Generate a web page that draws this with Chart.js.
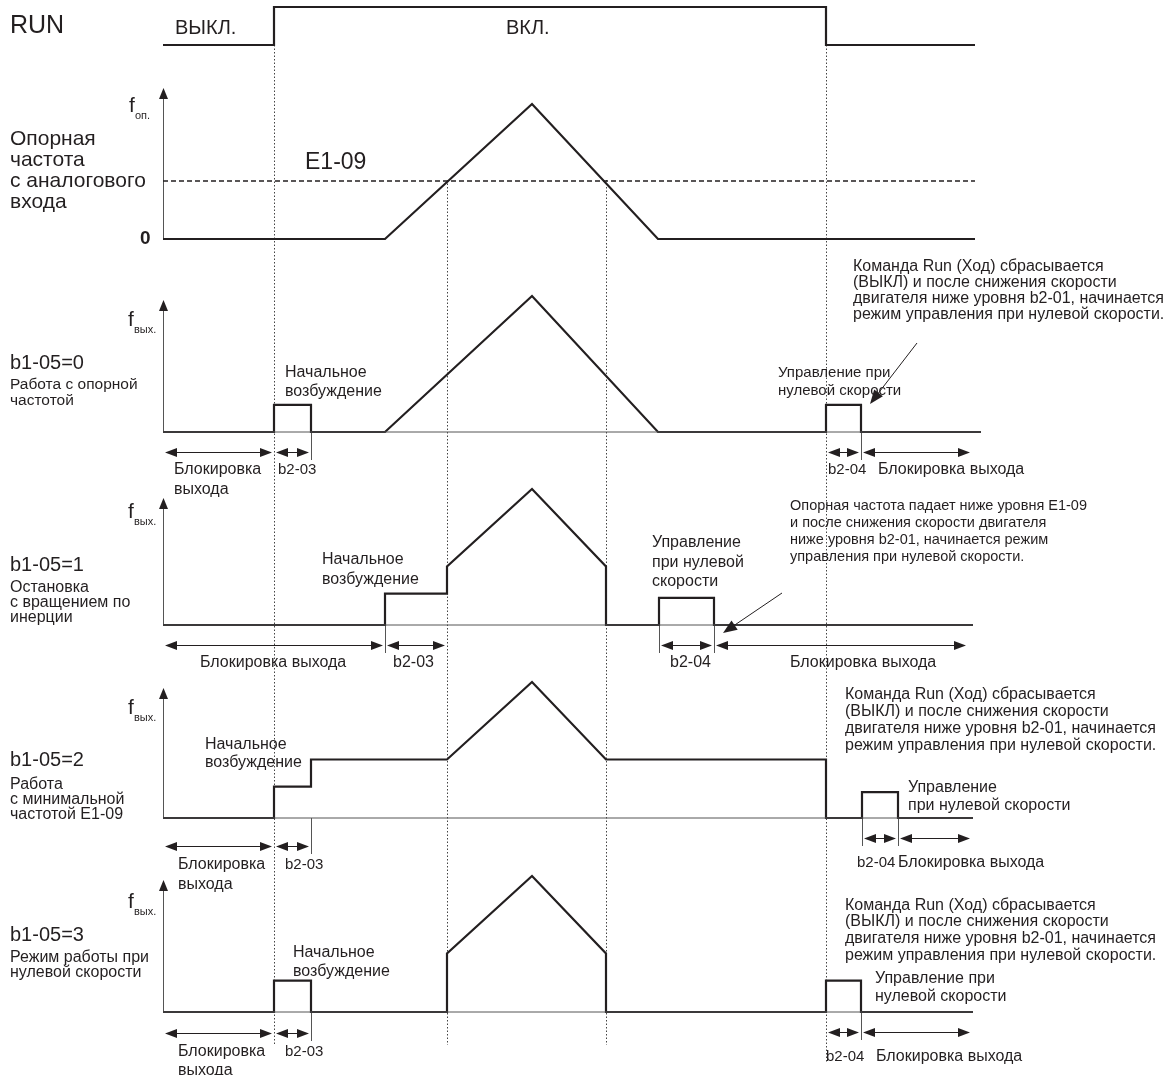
<!DOCTYPE html>
<html>
<head>
<meta charset="utf-8">
<script src="https://cdn.jsdelivr.net/npm/chart.js@4"></script>
<style>
  html, body { margin: 0; padding: 0; background: #fff; }
  canvas { display: block; }
</style>
</head>
<body>
<canvas id="timing" width="1170" height="1075"></canvas>
<script>
// time axis: arbitrary units, levels in % of max frequency
const runT = [0, 11.1, 11.1, 66.3, 66.3, 81.2];
const runV = [0, 0, 1, 1, 0, 0];
const refT = [0, 22.2, 36.9, 49.5, 81.2];
const refV = [0, 0, 100, 0, 0];
const e109Level = 43;
const mode0T = [0, 11.1, 11.1, 14.8, 14.8, 22.2, 36.9, 49.5, 66.3, 66.3, 69.8, 69.8, 81.8];
const mode0V = [0, 0, 20, 20, 0, 0, 100, 0, 0, 20, 20, 0, 0];
const mode1T = [0, 22.2, 22.2, 28.4, 28.4, 36.9, 44.3, 44.3, 49.6, 49.6, 55.1, 55.1, 81.0];
const mode1V = [0, 0, 23, 23, 43, 100, 43, 0, 0, 20, 20, 0, 0];
const mode2T = [0, 11.1, 11.1, 14.8, 14.8, 28.4, 36.9, 44.3, 66.3, 66.3, 69.9, 69.9, 73.5, 73.5, 81.0];
const mode2V = [0, 0, 23, 23, 43, 43, 100, 43, 43, 0, 0, 19, 19, 0, 0];
const mode3T = [0, 11.1, 11.1, 14.8, 14.8, 28.4, 28.4, 36.9, 44.3, 44.3, 66.3, 66.3, 69.8, 69.8, 81.0];
const mode3V = [0, 0, 23, 23, 0, 0, 43, 100, 43, 0, 0, 23, 23, 0, 0];
const guideT = [11.1, 28.4, 44.3, 66.3];
const spans0 = [[0, 11.1], [11.1, 14.8], [66.3, 69.8], [69.8, 80.9]];
const spans1 = [[0, 22.2], [22.2, 28.4], [49.6, 55.1], [55.1, 80.5]];
const spans2 = [[0, 11.1], [11.1, 14.8], [69.9, 73.5], [73.5, 80.9]];
const spans3 = [[0, 11.1], [11.1, 14.8], [66.3, 69.8], [69.8, 80.9]];

// layout (pixels on the y scale)
const ink = '#231f20';
const font = "'Liberation Sans', Arial, sans-serif";
const gain = 1.36;
const runRow = { base: 45, gain: 38 };
const refRow = { base: 239, gain: 1.35, top: 88 };
const modeRows = [
    { t: mode0T, v: mode0V, spans: spans0, base: 432, top: 300, arrowY: 452, arrowY2: 452 },
    { t: mode1T, v: mode1V, spans: spans1, base: 625, top: 498, arrowY: 645, arrowY2: 645 },
    { t: mode2T, v: mode2V, spans: spans2, base: 818, top: 688, arrowY: 846, arrowY2: 838 },
    { t: mode3T, v: mode3V, spans: spans3, base: 1012, top: 880, arrowY: 1033, arrowY2: 1032 }
];
const guideRange = [[45, 1045], [180, 1045], [180, 1045], [45, 1062]];
const pointers = [
    { from: [75.4, 343], to: [70.7, 404] },
    { from: [61.9, 593], to: [56.0, 633] }
];

const labels = [
    ['RUN', 10, 26, '25px'],
    ['ВЫКЛ.', 175, 28, '20px'],
    ['ВКЛ.', 506, 28, '20px'],
    ['Опорная', 10, 139, '21px'], ['частота', 10, 160, '21px'],
    ['с аналогового', 10, 181, '21px'], ['входа', 10, 202, '21px'],
    ['E1-09', 305, 163, '23px'],
    ['0', 140, 239, 'bold 19px'],
    // b1-05=0
    ['b1-05=0', 10, 363, '20px'],
    ['Работа с опорной', 10, 385, '15.5px'], ['частотой', 10, 401, '15.5px'],
    ['Начальное', 285, 373, '16px'], ['возбуждение', 285, 392, '16px'],
    ['Блокировка', 174, 470, '16px'], ['выхода', 174, 490, '16px'], ['b2-03', 278, 470, '15px'],
    ['Управление при', 778, 373, '15px'], ['нулевой скорости', 778, 391, '15px'],
    ['Команда Run (Ход) сбрасывается', 853, 267, '16px'],
    ['(ВЫКЛ) и после снижения скорости', 853, 283, '16px'],
    ['двигателя ниже уровня b2-01, начинается', 853, 299, '16px'],
    ['режим управления при нулевой скорости.', 853, 315, '16px'],
    ['b2-04', 828, 470, '15px'], ['Блокировка выхода', 878, 470, '16px'],
    // b1-05=1
    ['b1-05=1', 10, 565, '20px'],
    ['Остановка', 10, 588, '16px'], ['с вращением по', 10, 603, '16px'], ['инерции', 10, 618, '16px'],
    ['Начальное', 322, 560, '16px'], ['возбуждение', 322, 580, '16px'],
    ['Блокировка выхода', 200, 663, '16px'], ['b2-03', 393, 663, '16px'],
    ['Управление', 652, 543, '16px'], ['при нулевой', 652, 563, '16px'], ['скорости', 652, 582, '16px'],
    ['Опорная частота падает ниже уровня E1-09', 790, 506, '14.5px'],
    ['и после снижения скорости двигателя', 790, 523, '14.5px'],
    ['ниже уровня b2-01, начинается режим', 790, 540, '14.5px'],
    ['управления при нулевой скорости.', 790, 557, '14.5px'],
    ['b2-04', 670, 663, '16px'], ['Блокировка выхода', 790, 663, '16px'],
    // b1-05=2
    ['b1-05=2', 10, 760, '20px'],
    ['Работа', 10, 785, '16px'], ['с минимальной', 10, 800, '16px'], ['частотой E1-09', 10, 815, '16px'],
    ['Начальное', 205, 745, '16px'], ['возбуждение', 205, 763, '16px'],
    ['Блокировка', 178, 865, '16px'], ['выхода', 178, 885, '16px'], ['b2-03', 285, 865, '15px'],
    ['Команда Run (Ход) сбрасывается', 845, 695, '16px'],
    ['(ВЫКЛ) и после снижения скорости', 845, 712, '16px'],
    ['двигателя ниже уровня b2-01, начинается', 845, 729, '16px'],
    ['режим управления при нулевой скорости.', 845, 746, '16px'],
    ['Управление', 908, 788, '16px'], ['при нулевой скорости', 908, 806, '16px'],
    ['b2-04', 857, 863, '15px'], ['Блокировка выхода', 898, 863, '16px'],
    // b1-05=3
    ['b1-05=3', 10, 935, '20px'],
    ['Режим работы при', 10, 958, '16px'], ['нулевой скорости', 10, 973, '16px'],
    ['Начальное', 293, 953, '16px'], ['возбуждение', 293, 972, '16px'],
    ['Блокировка', 178, 1052, '16px'], ['выхода', 178, 1071, '16px'], ['b2-03', 285, 1052, '15px'],
    ['Команда Run (Ход) сбрасывается', 845, 906, '16px'],
    ['(ВЫКЛ) и после снижения скорости', 845, 922, '16px'],
    ['двигателя ниже уровня b2-01, начинается', 845, 939, '16px'],
    ['режим управления при нулевой скорости.', 845, 956, '16px'],
    ['Управление при', 875, 979, '16px'], ['нулевой скорости', 875, 997, '16px'],
    ['b2-04', 826, 1057, '15px'], ['Блокировка выхода', 876, 1057, '16px']
];
// axis names: [main, subscript, x, y]
const axisNames = [
    ['f', 'оп.', 129, 106],
    ['f', 'вых.', 128, 320],
    ['f', 'вых.', 128, 512],
    ['f', 'вых.', 128, 708],
    ['f', 'вых.', 128, 902]
];

function pts(times, vals, base, g) {
    return times.map((t, i) => ({ x: t, y: base - vals[i] * g }));
}
function signal(data, extra) {
    return Object.assign({ data, borderColor: ink, borderWidth: 2.2, pointRadius: 0, tension: 0, fill: false }, extra || {});
}

const datasets = [
    signal(pts(runT, runV, runRow.base, runRow.gain)),
    signal(pts([0, refT[refT.length - 1]], [e109Level, e109Level], refRow.base, refRow.gain),
        { borderWidth: 1.5, borderDash: [5, 3] }),
    signal(pts(refT, refV, refRow.base, refRow.gain))
];
modeRows.forEach(r => {
    datasets.push(signal([{ x: 0, y: r.base }, { x: r.t[r.t.length - 1], y: r.base }],
        { borderWidth: 1, borderColor: '#555' }));
    datasets.push(signal(pts(r.t, r.v, r.base, gain)));
});

function head(ctx, x, y, dx, dy, len, w) {
    len = len || 12;
    w = w || 4.5;
    ctx.beginPath();
    ctx.moveTo(x, y);
    ctx.lineTo(x - dx * len - dy * w, y - dy * len + dx * w);
    ctx.lineTo(x - dx * len + dy * w, y - dy * len - dx * w);
    ctx.closePath();
    ctx.fill();
}

const diagram = {
    id: 'diagram',
    beforeDatasetsDraw(chart) {
        const ctx = chart.ctx, xs = chart.scales.x;
        ctx.save();
        // dotted guides
        ctx.strokeStyle = '#444';
        ctx.lineWidth = 1;
        ctx.setLineDash([1.5, 2]);
        guideT.forEach((t, i) => {
            const x = Math.round(xs.getPixelForValue(t)) + 0.5;
            ctx.beginPath();
            ctx.moveTo(x, guideRange[i][0]);
            ctx.lineTo(x, guideRange[i][1]);
            ctx.stroke();
        });
        ctx.setLineDash([]);
        // vertical axes
        const x0 = Math.round(xs.getPixelForValue(0)) + 0.5;
        ctx.strokeStyle = '#555';
        ctx.fillStyle = ink;
        [refRow].concat(modeRows).forEach(r => {
            ctx.beginPath();
            ctx.moveTo(x0, r.base);
            ctx.lineTo(x0, r.top + 4);
            ctx.stroke();
            head(ctx, x0, r.top, 0, -1, 11, 4.5);
        });
        // extension ticks below step edges
        modeRows.forEach(r => {
            const ends = r.spans.flat();
            const last = ends[ends.length - 1];
            ends.forEach((t, k) => {
                if (t === 0 || t === last || guideT.includes(t)) return;
                const y = k < 4 ? r.arrowY : r.arrowY2;
                const x = Math.round(xs.getPixelForValue(t)) + 0.5;
                ctx.beginPath();
                ctx.moveTo(x, r.base);
                ctx.lineTo(x, y + 8);
                ctx.stroke();
            });
        });
        ctx.restore();
    },
    afterDatasetsDraw(chart) {
        const ctx = chart.ctx, xs = chart.scales.x;
        ctx.save();
        ctx.strokeStyle = ink;
        ctx.fillStyle = ink;
        ctx.lineWidth = 1;
        // dimension arrows
        modeRows.forEach(r => {
            r.spans.forEach((s, i) => {
                const y = (i < 2 ? r.arrowY : r.arrowY2) + 0.5;
                const a = xs.getPixelForValue(s[0]) + 2, b = xs.getPixelForValue(s[1]) - 2;
                ctx.beginPath();
                ctx.moveTo(a + 4, y);
                ctx.lineTo(b - 4, y);
                ctx.stroke();
                head(ctx, a, y, -1, 0);
                head(ctx, b, y, 1, 0);
            });
        });
        // pointer arrows
        pointers.forEach(p => {
            const x1 = xs.getPixelForValue(p.from[0]), y1 = p.from[1];
            const x2 = xs.getPixelForValue(p.to[0]), y2 = p.to[1];
            const d = Math.hypot(x2 - x1, y2 - y1);
            ctx.beginPath();
            ctx.moveTo(x1, y1);
            ctx.lineTo(x2 - (x2 - x1) / d * 8, y2 - (y2 - y1) / d * 8);
            ctx.stroke();
            head(ctx, x2, y2, (x2 - x1) / d, (y2 - y1) / d, 14, 5.5);
        });
        // texts
        ctx.textBaseline = 'middle';
        ctx.textAlign = 'left';
        labels.forEach(([txt, x, y, size]) => {
            ctx.font = size + ' ' + font;
            ctx.fillText(txt, x, y);
        });
        axisNames.forEach(([m, sub, x, y]) => {
            ctx.font = '21px ' + font;
            ctx.fillText(m, x, y);
            ctx.font = '11px ' + font;
            ctx.fillText(sub, x + 6, y + 10);
        });
        ctx.restore();
    }
};

new Chart(document.getElementById('timing'), {
    type: 'line',
    data: { datasets },
    options: {
        responsive: false,
        animation: false,
        layout: { padding: 0 },
        plugins: { legend: { display: false }, tooltip: { enabled: false } },
        scales: {
            x: { type: 'linear', min: -16.3, max: 100.7, display: false },
            y: { min: 0, max: 1075, reverse: true, display: false }
        }
    },
    plugins: [diagram]
});
</script>
</body>
</html>
